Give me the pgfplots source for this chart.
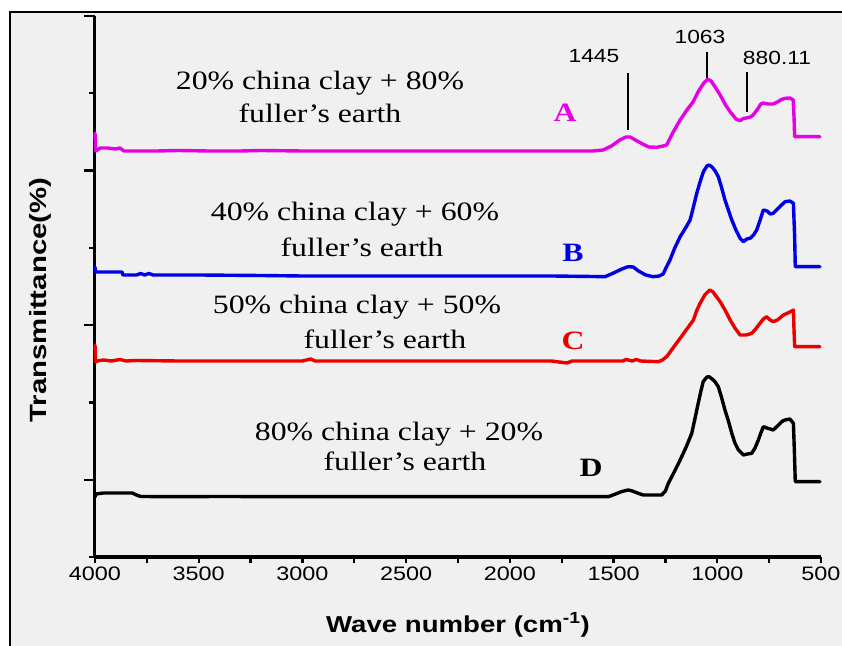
\documentclass[border=0pt]{standalone}
\usepackage{pgfplots}
\pgfplotsset{compat=1.18}
\usepackage{fontspec}
\setmainfont{Liberation Serif}
\newfontfamily\serifw{Liberation Serif}[FakeStretch=1.2]
\newfontfamily\sansw{Liberation Sans}[FakeStretch=1.2]
\newfontfamily\sansy{Liberation Sans}[FakeStretch=1.25]
\definecolor{bgg}{RGB}{240,240,240}
\definecolor{magA}{RGB}{230,0,230}
\definecolor{bluB}{RGB}{0,0,230}
\definecolor{redC}{RGB}{235,0,0}
\newcommand{\txt}{\serifw\fontsize{26.5bp}{30bp}\selectfont}
\newcommand{\lbl}{\serifw\bfseries\fontsize{26.5bp}{30bp}\selectfont}
\newcommand{\pk}{\sansw\fontsize{19bp}{22bp}\selectfont}
\pgfplotsset{spec/.style={line width=3.4bp, line join=round, line cap=round}}
\begin{document}
\begin{tikzpicture}
\fill[white] (0,0) rectangle (842bp,646bp);
\fill[bgg] (10bp,0) rectangle (842bp,634bp);
\draw[line width=1.3bp] (10bp,0) -- (10bp,634bp) -- (842bp,634bp);
\begin{axis}[
  at={(95bp,89bp)}, anchor=south west, scale only axis,
  width=726bp, height=541bp,
  x dir=reverse, xmin=500, xmax=4000, ymin=0, ymax=541,
  axis x line*=bottom, axis y line*=left,
  axis line style={line width=3bp},
  every inner x axis line/.append style={line width=3bp},
  every inner y axis line/.append style={line width=3bp},
  xtick={500,1000,...,4000}, minor xtick={750,1250,...,3750},
  ytick={0,154.5,309.1,463.7}, yticklabels={},
  extra y ticks={77.2,231.8,386.4,541}, extra y tick labels={},
  extra y tick style={major tick length=11bp},
  tick align=outside,
  major tick length=6bp, minor tick length=6bp,
  tick style={black, line width=2.2bp},
  scaled x ticks=false,
  /pgf/number format/1000 sep={},
  /pgf/number format/assume math mode=true,
  tick label style={font=\sansw\fontsize{19.5bp}{22bp}\selectfont},
  xlabel={Wave number (cm\textsuperscript{-1})},
  xlabel style={font=\sansw\bfseries\fontsize{23bp}{26bp}\selectfont, at={(axis description cs:0.5,0)}, anchor=center, yshift=-68bp},
  ylabel={Transmittance(\%)},
  ylabel style={font=\sansy\bfseries\fontsize{23.5bp}{26bp}\selectfont, at={(axis description cs:-0.0758,0.475)}, anchor=center},
  clip=false,
]
% D (black)
\addplot[black, spec] coordinates {(4000,60) (3995,63) (3960,64) (3900,64) (3820,64) (3800,62) (3780,60.5) (3600,60.3) (3400,60.5) (3000,60.3) (2600,60.3) (2200,60.3) (1800,60.3) (1525,60.3) (1490,63) (1460,65.5) (1429,67) (1410,66) (1385,64) (1357,62) (1268,62) (1250,66) (1236,73.7) (1210,84) (1179,97) (1150,110) (1123,123.7) (1108,138) (1092,153.7) (1080,165) (1068,175.3) (1050,180) (1039,180.3) (1025,178) (1010,175) (995,170.3) (980,160) (963,147) (945,135) (930,123.7) (915,114) (898,107) (874,102) (855,103) (834,103.7) (818,109) (802,117) (790,124) (778,130.3) (760,129) (745,128) (730,127) (715,130) (700,133) (685,136) (673,137) (650,138) (633,133.7) (628,103.7) (624,75.3) (505,75.3)};
% C (red)
\addplot[redC, spec] coordinates {(4000,212) (3997,195) (3990,196) (3960,197) (3920,196) (3880,197.5) (3850,196) (3800,196.5) (3600,196) (3400,196) (3000,196) (2960,198) (2940,196) (2600,196) (2200,196) (1800,196) (1725,194) (1700,196) (1455,196) (1440,197.5) (1410,196) (1390,197.5) (1370,196) (1284,195.3) (1265,197) (1244,200.3) (1210,210) (1179,218.7) (1150,227) (1115,237) (1100,246) (1083,253.7) (1060,262) (1036,267) (1020,265) (1010,262) (986,255.3) (960,246) (938,237) (915,229) (890,222) (860,222) (834,223.7) (815,228) (794,233.7) (778,238) (762,240.3) (745,237) (730,235.3) (710,237) (681,242) (660,244) (640,246) (633,247) (630,227) (627,210.3) (505,210.3)};
% B (blue)
\addplot[bluB, spec] coordinates {(4000,290) (3997,285) (3960,285) (3870,285) (3865,282) (3800,282) (3780,283.5) (3760,282) (3740,283.5) (3720,282) (3500,282) (3200,281.5) (3000,281) (2700,281) (2400,281) (2100,281) (1800,281) (1600,280.5) (1541,280.3) (1500,284) (1460,288) (1430,290.3) (1405,290) (1380,286) (1345,282) (1310,280.3) (1280,281) (1261,283) (1245,290) (1228,297) (1205,309) (1179,320.3) (1150,330) (1131,337) (1115,350) (1099,363.7) (1083,375) (1067,385.3) (1050,391) (1039,392) (1025,390) (1010,386) (995,380.3) (980,370) (963,357) (945,346) (930,337) (910,327) (890,318.7) (874,315.3) (858,318) (842,318.7) (825,322) (810,327) (795,336) (778,347) (760,346) (745,343) (730,343.7) (715,347) (700,350) (685,353) (673,355.3) (650,356) (633,353.7) (627,320.3) (624,290.3) (505,290.3)};
% A (magenta)
\addplot[magA, spec] coordinates {(4000,424) (3997,406) (3975,409) (3940,409) (3900,408) (3880,409) (3860,406) (3700,406) (3600,406.5) (3450,406) (3300,406) (3200,406.5) (3000,406) (2800,406) (2600,406) (2400,406) (2200,406) (2000,406) (1800,406) (1600,406) (1551,407) (1510,411) (1470,417) (1440,420) (1420,420) (1395,417) (1360,413) (1330,410) (1292,409.7) (1260,411) (1244,412) (1215,424) (1179,437) (1150,446) (1116,455.3) (1090,466) (1065,474) (1046,477.7) (1030,476) (1010,470) (986,462) (960,452) (938,445.3) (910,438) (890,436.3) (875,438.5) (860,439) (840,440) (827,442) (805,448) (790,453) (779,454) (755,453) (731,453) (710,455) (690,457.5) (673,458.7) (650,459) (634,457) (630,440) (627,420.3) (505,420.3)};
% peak marker lines
\addplot[black, line width=2.2bp] coordinates {(1432,484) (1432,427)};
\addplot[black, line width=2.2bp] coordinates {(1048,505) (1048,479)};
\addplot[black, line width=2.2bp] coordinates {(858,485) (858,445)};
\end{axis}
\begin{scope}[shift={(0,646bp)}, x=1bp, y=-1bp]
\node[anchor=base, inner sep=0] at (320,90) {\txt 20\% china clay + 80\%};
\node[anchor=base, inner sep=0] at (320,123) {\txt fuller’s earth};
\node[anchor=base, inner sep=0, text=magA] at (565,122) {\lbl A};
\node[anchor=base, inner sep=0] at (355,221) {\txt 40\% china clay + 60\%};
\node[anchor=base, inner sep=0] at (362,257) {\txt fuller’s earth};
\node[anchor=base, inner sep=0, text=bluB] at (573,262) {\lbl B};
\node[anchor=base, inner sep=0] at (357,314) {\txt 50\% china clay + 50\%};
\node[anchor=base, inner sep=0] at (385,349) {\txt fuller’s earth};
\node[anchor=base, inner sep=0, text=redC] at (573,350) {\lbl C};
\node[anchor=base, inner sep=0] at (399,441) {\txt 80\% china clay + 20\%};
\node[anchor=base, inner sep=0] at (405,471) {\txt fuller’s earth};
\node[anchor=base, inner sep=0] at (591,477) {\lbl D};
\node[anchor=base, inner sep=0] at (594,63) {\pk 1445};
\node[anchor=base, inner sep=0] at (700,44) {\pk 1063};
\node[anchor=base, inner sep=0] at (777,65) {\pk 880.11};
\end{scope}
\pgfresetboundingbox
\path[use as bounding box] (0,0) rectangle (842bp,646bp);
\end{tikzpicture}
\end{document}
